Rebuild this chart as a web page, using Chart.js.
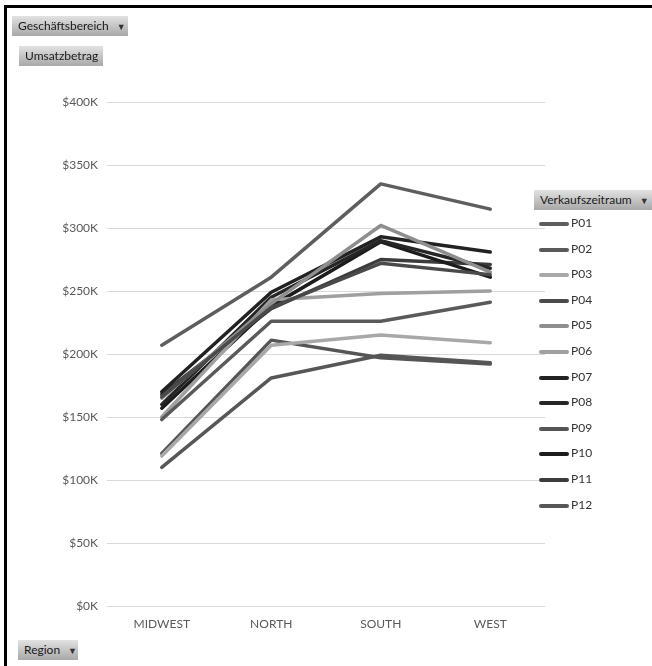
<!DOCTYPE html>
<html>
<head>
<meta charset="utf-8">
<script src="https://cdn.jsdelivr.net/npm/chart.js@4"></script>
<style>
  html, body { margin: 0; padding: 0; background: #fff; }
  body { width: 652px; height: 666px; position: relative; overflow: hidden; font-family: Lato, "Open Sans", sans-serif; }
  #frame { position: absolute; left: 4px; top: 5px; right: 0; bottom: 0; border-left: 3px solid #000; border-top: 3px solid #000; pointer-events: none; }
  #wrap { position: absolute; left: 0; top: 0; width: 652px; height: 666px; }
  .btn { position: absolute; height: 20px; line-height: 20px; font-size: 12px; color: #1a1a1a; padding: 0 6px;
         background: linear-gradient(to bottom, #e2e2e2, #a8a8a8); box-sizing: border-box; white-space: nowrap; }
  .btn .arr { font-size: 9px; margin-left: 8px; color: #333; }
  #legend { position: absolute; left: 539px; top: 214px; }
  .item { position: absolute; left: 0; height: 20px; width: 110px; }
  .item .ln { position: absolute; left: 0; top: 8px; width: 30px; height: 4px; border-radius: 2px; }
  .item .tx { position: absolute; left: 32px; top: 1px; font-size: 12px; color: #333; }
</style>
</head>
<body>
<div id="wrap"><canvas id="chart" width="652" height="666"></canvas></div>
<div id="frame"></div>
<div class="btn" style="left:12px;top:16px;width:116px;">Geschäftsbereich<span class="arr">▼</span></div>
<div class="btn" style="left:19px;top:46px;width:84px;">Umsatzbetrag</div>
<div class="btn" style="left:534px;top:190px;width:118px;">Verkaufszeitraum<span class="arr">▼</span></div>
<div class="btn" style="left:18px;top:640px;width:60px;">Region<span class="arr">▼</span></div>
<div id="legend"></div>
<script>
// Regions on the x axis
const regions = ['MIDWEST', 'NORTH', 'SOUTH', 'WEST'];

// Sales periods (one line each) and their sales in $K per region
const periods = ['P01', 'P02', 'P03', 'P04', 'P05', 'P06', 'P07', 'P08', 'P09', 'P10', 'P11', 'P12'];
const p01 = [207, 261, 335, 315];
const p02 = [148, 226, 226, 241];
const p03 = [119, 207, 215, 209];
const p04 = [166, 237, 272, 263];
const p05 = [165, 240, 302, 265];
const p06 = [150, 243, 248, 250];
const p07 = [170, 249, 293, 281];
const p08 = [160, 245, 290, 268];
const p09 = [121, 211, 197, 192];
const p10 = [157, 238, 289, 261];
const p11 = [168, 236, 275, 271];
const p12 = [110, 181, 199, 193];
const series = [p01, p02, p03, p04, p05, p06, p07, p08, p09, p10, p11, p12];

const colors = ['#5e5e5e', '#5a5a5a', '#a8a8a8', '#4a4a4a', '#8e8e8e', '#a0a0a0',
                '#222222', '#262626', '#555555', '#1c1c1c', '#3c3c3c', '#575757'];

const datasets = periods.map(function (p, i) {
    return {
        label: p,
        data: series[i].map(v => v * 1000),
        borderColor: colors[i],
        backgroundColor: colors[i],
        borderWidth: 3.5,
        pointRadius: 0,
        tension: 0,
        borderCapStyle: 'round',
        borderJoinStyle: 'round'
    };
});

const tickFont = { family: 'Lato, "Open Sans", sans-serif', size: 12 };

const chart = new Chart(document.getElementById('chart'), {
    type: 'line',
    data: { labels: regions, datasets: datasets },
    options: {
        responsive: false,
        animation: false,
        layout: { padding: { left: 0, right: 107, top: 102, bottom: 30 } },
        plugins: { legend: { display: false }, tooltip: { enabled: false } },
        scales: {
            x: {
                offset: true,
                grid: { display: false, drawTicks: false },
                border: { display: false },
                ticks: { color: '#595959', font: tickFont, padding: 11, maxRotation: 0 },
                afterFit: function (s) { s.height = 30; }
            },
            y: {
                min: 0,
                max: 400000,
                ticks: {
                    stepSize: 50000,
                    color: '#595959',
                    font: tickFont,
                    padding: 9,
                    callback: v => '$' + (v / 1000) + 'K'
                },
                grid: { color: '#d9d9d9', lineWidth: 1, drawTicks: false },
                border: { display: false },
                afterFit: function (s) { s.width = 107; }
            }
        }
    }
});

// legend built from the datasets
const legend = document.getElementById('legend');
chart.data.datasets.forEach(function (ds, i) {
    const item = document.createElement('div');
    item.className = 'item';
    item.style.top = (i * 25.6) + 'px';
    item.innerHTML = '<span class="ln" style="background:' + ds.borderColor + '"></span><span class="tx">' + ds.label + '</span>';
    legend.appendChild(item);
});
</script>
</body>
</html>
